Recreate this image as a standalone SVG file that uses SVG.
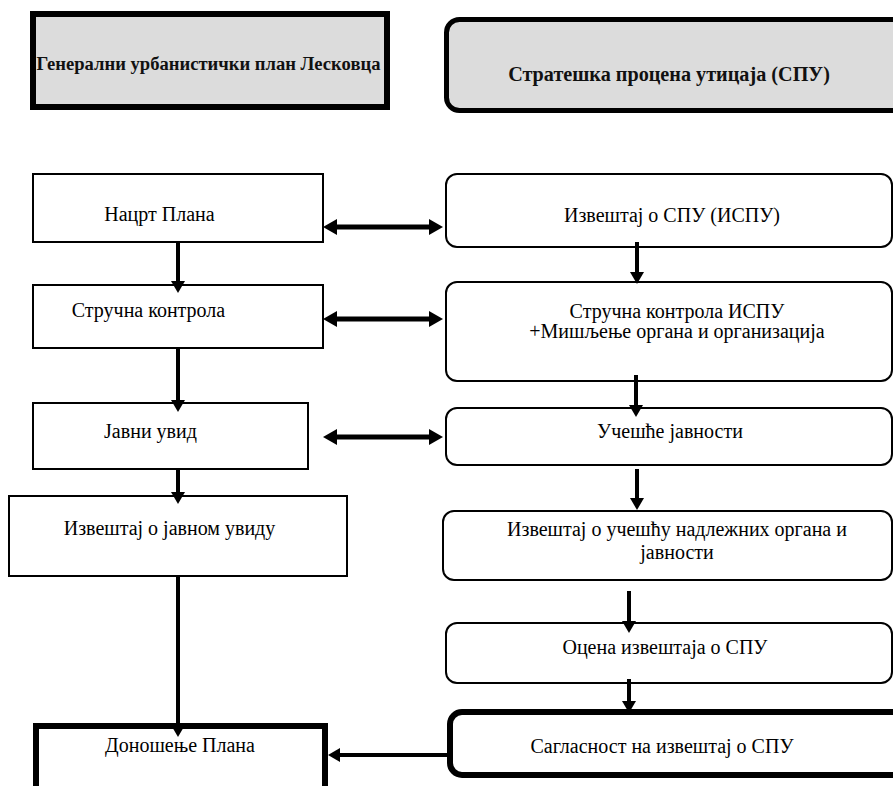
<svg xmlns="http://www.w3.org/2000/svg" width="893" height="786" viewBox="0 0 893 786">
<defs>
<style>
.box{fill:#fff;stroke:#000;stroke-width:2}
.head{fill:#dcdcdc;stroke:#000}
.thick{fill:#fff;stroke:#000;stroke-width:6}
.t{font-family:'Liberation Serif','DejaVu Serif',serif;font-size:20px;fill:#000;text-anchor:middle}
.tb{font-family:'Liberation Serif','DejaVu Serif',serif;font-weight:bold;fill:#111;text-anchor:middle}
.v{stroke:#000;stroke-width:4;fill:none;marker-end:url(#ah)}
.h{stroke:#000;stroke-width:5;fill:none;marker-start:url(#dh);marker-end:url(#dh)}
</style>
<marker id="ah" viewBox="0 0 12 14" refX="2" refY="7" markerWidth="12" markerHeight="14" markerUnits="userSpaceOnUse" orient="auto"><path d="M0,0 L12,7 L0,14 z" fill="#000"/></marker>
<marker id="dh" viewBox="0 0 14 16" refX="3" refY="8" markerWidth="14" markerHeight="16" markerUnits="userSpaceOnUse" orient="auto-start-reverse"><path d="M0,0 L14,8 L0,16 z" fill="#000"/></marker>
</defs>
<rect width="893" height="786" fill="#fff"/>

<g id="gup">
<rect class="head" x="33" y="14" width="354" height="93" stroke-width="6"/>
<text class="tb" x="208.5" y="70" font-size="18.6">Генерални урбанистички план Лесковца</text>
</g>
<g id="spu">
<rect class="head" x="446.5" y="19.5" width="460" height="91" rx="13" stroke-width="5"/>
<text class="tb" x="669" y="81" font-size="20.2">Стратешка процена утицаја (СПУ)</text>
</g>

<g id="nacrt">
<rect class="box" x="33" y="174" width="290" height="68"/>
<text class="t" x="159.5" y="221">Нацрт Плана</text>
</g>
<g id="strucna">
<rect class="box" x="33" y="285" width="290" height="63"/>
<text class="t" x="148.5" y="317">Стручна контрола</text>
</g>
<g id="javni">
<rect class="box" x="33" y="403" width="275" height="66"/>
<text class="t" x="150.5" y="438">Јавни увид</text>
</g>
<g id="izvjavni">
<rect class="box" x="9" y="496" width="338" height="80"/>
<text class="t" x="169.5" y="535">Извештај о јавном увиду</text>
</g>
<g id="donosenje">
<rect class="thick" x="36" y="726" width="289" height="80"/>
<text class="t" x="180" y="752">Доношење Плана</text>
</g>

<g id="ispu">
<rect class="box" x="446" y="174" width="446" height="73" rx="11"/>
<text class="t" x="672" y="222">Извештај о СПУ (ИСПУ)</text>
</g>
<g id="strucnaispu">
<rect class="box" x="446" y="282" width="446" height="99" rx="11"/>
<text class="t" x="677" y="318">Стручна контрола ИСПУ</text>
<text class="t" x="677" y="338">+Мишљење органа и организација</text>
</g>
<g id="ucesce">
<rect class="box" x="446" y="408" width="446" height="57" rx="11"/>
<text class="t" x="670" y="438">Учешће јавности</text>
</g>
<g id="izvucesce">
<rect class="box" x="443" y="511" width="449" height="69" rx="11"/>
<text class="t" x="677" y="536">Извештај о учешћу надлежних органа и</text>
<text class="t" x="677" y="559">јавности</text>
</g>
<g id="ocena">
<rect class="box" x="446" y="623" width="446" height="60" rx="11"/>
<text class="t" x="665" y="654">Оцена извештаја о СПУ</text>
</g>
<g id="saglasnost">
<rect class="thick" x="450" y="712" width="460" height="63" rx="12"/>
<text class="t" x="662" y="753">Сагласност на извештај о СПУ</text>
</g>

<g id="connectors">
<path class="v" d="M178,242 V283"/>
<path class="v" d="M178,348 V402"/>
<path class="v" d="M178,469 V494"/>
<path class="v" d="M178,576 V727"/>
<path class="v" d="M637,242 V274"/>
<path class="v" d="M636,375 V407"/>
<path class="v" d="M637,469 V500"/>
<path class="v" d="M629,591 V623"/>
<path class="v" d="M629,679 V703"/>
<path class="h" d="M334,227 H432"/>
<path class="h" d="M334,319 H432"/>
<path class="h" d="M334,437 H432"/>
<path class="v" d="M447,755 H338"/>
</g>
</svg>
